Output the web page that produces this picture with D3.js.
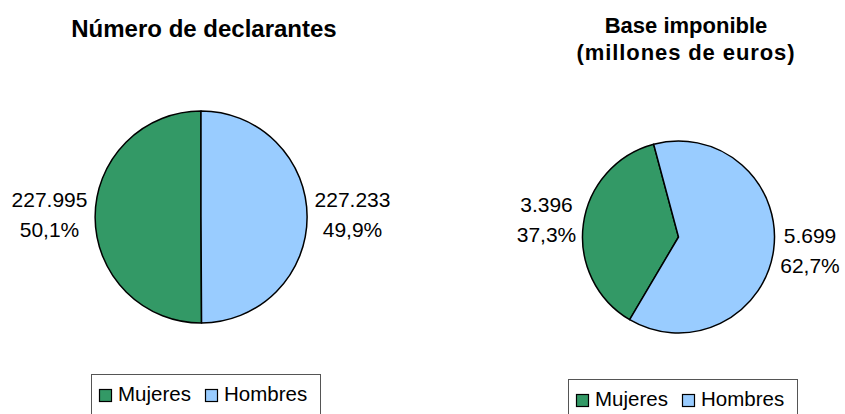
<!DOCTYPE html>
<html>
<head>
<meta charset="utf-8">
<script src="https://cdn.jsdelivr.net/npm/d3@7"></script>
<style>
  body { margin: 0; background: #fff; }
  svg { display: block; font-family: Arial, "Liberation Sans", sans-serif; }
</style>
</head>
<body>
<svg width="845" height="414"></svg>
<script>
// data
var categories = ["Mujeres", "Hombres"];
var declarantes = [227995, 227233];
var baseImponible = [3396, 5699];
var colors = ["#339966", "#99CCFF"];

var svg = d3.select("svg");

var es = d3.formatLocale({ decimal: ",", thousands: ".", grouping: [3], currency: ["", " €"] });
var fmtNum = es.format(",d"),
    fmtPct = es.format(".1%");

var color = d3.scaleOrdinal().domain(categories).range(colors);

var charts = [
  { title: ["Número de declarantes"], titleX: 204, titleY: [37], titleSize: 24, spacing: [0],
    values: declarantes, cx: 201, cy: 217, r: 106, endAngle: 360,
    labels: [{ dx: -151.5, dy: -10 }, { dx: 151.5, dy: -10 }],
    legendX: 91, legendY: 374 },
  { title: ["Base imponible", "(millones de euros)"], titleX: 686, titleY: [33, 60], titleSize: 22, spacing: [0, 0.9],
    values: baseImponible, cx: 678.5, cy: 237, r: 96, endAngle: 345,
    labels: [{ dx: -132, dy: -25 }, { dx: 131.5, dy: 6 }],
    legendX: 568, legendY: 379 }
];

charts.forEach(function(c) {
  var total = d3.sum(c.values);
  var data = categories.map(function(k, i) { return { key: k, value: c.values[i] }; });

  // Mujeres slice ends at c.endAngle, going clockwise
  var mAngle = 2 * Math.PI * c.values[0] / total;
  var start = c.endAngle * Math.PI / 180 - mAngle;
  var pie = d3.pie().sort(null).value(function(d) { return d.value; })
      .startAngle(start).endAngle(start + 2 * Math.PI);
  var arc = d3.arc().innerRadius(0).outerRadius(c.r);

  var title = svg.append("text")
      .attr("text-anchor", "middle")
      .attr("font-weight", "bold")
      .attr("font-size", c.titleSize)
      .attr("fill", "#000");
  c.title.forEach(function(t, i) {
    title.append("tspan")
        .attr("x", c.titleX).attr("y", c.titleY[i])
        .attr("letter-spacing", c.spacing[i])
        .text(t);
  });

  var g = svg.append("g").attr("transform", "translate(" + c.cx + "," + c.cy + ")");
  g.selectAll("path")
    .data(pie(data))
    .enter().append("path")
      .attr("d", arc)
      .attr("fill", function(d) { return color(d.data.key); })
      .attr("stroke", "#000")
      .attr("stroke-width", 1.5)
      .attr("stroke-linejoin", "round");

  // value labels
  data.forEach(function(d, i) {
    var l = c.labels[i];
    var t = g.append("text")
        .attr("text-anchor", "middle")
        .attr("font-size", 21)
        .attr("fill", "#000");
    t.append("tspan").attr("x", l.dx).attr("y", l.dy).text(fmtNum(d.value));
    t.append("tspan").attr("x", l.dx).attr("y", l.dy + 30).text(fmtPct(d.value / total));
  });

  // legend
  var lg = svg.append("g").attr("transform", "translate(" + c.legendX + "," + c.legendY + ")");
  lg.append("rect")
      .attr("x", 0.5).attr("y", 0.5)
      .attr("width", 229).attr("height", 50)
      .attr("fill", "#fff")
      .attr("stroke", "#555")
      .attr("stroke-width", 1);
  var offs = [8, 114];
  categories.forEach(function(k, i) {
    lg.append("rect")
        .attr("x", offs[i] + 0.5).attr("y", 15.5)
        .attr("width", 12).attr("height", 12)
        .attr("fill", color(k))
        .attr("stroke", "#000")
        .attr("stroke-width", 1.2);
    lg.append("text")
        .attr("x", offs[i] + 19)
        .attr("y", 27)
        .attr("font-size", 20.5)
        .attr("fill", "#000")
        .text(k);
  });
});
</script>
</body>
</html>
